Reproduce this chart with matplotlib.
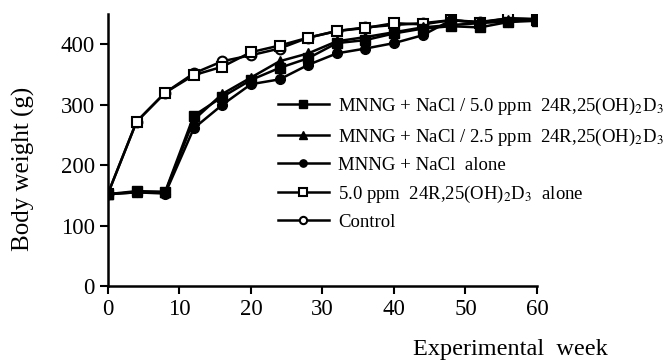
import matplotlib
matplotlib.use('Agg')
import matplotlib.pyplot as plt

plt.rcParams['font.family'] = 'Liberation Serif'
plt.rcParams['mathtext.fontset'] = 'stix'

# experimental weeks
weeks = [0, 4, 8, 12, 16, 20, 24, 28, 32, 36, 40, 44, 48, 52, 56, 60]

# body weight (g) per group
mnng_5ppm = [152, 157, 156, 282, 313, 341, 361, 377, 402, 407, 418, 426, 430, 428, 437, 439]
mnng_25ppm = [152, 155, 155, 275, 318, 345, 372, 385, 405, 412, 420, 428, 432, 435, 440, 440]
mnng_alone = [152, 155, 153, 261, 300, 334, 342, 366, 385, 393, 402, 415, 440, 436, 437, 442]
vitd_alone = [153, 272, 320, 349, 363, 387, 398, 411, 422, 427, 435, 433, 440, 436, 443, 441]
control = [153, 272, 320, 352, 372, 382, 393, 411, 422, 428, 432, 435, 440, 437, 443, 442]

labels = ['MNNG + NaCl / 5.0 ppm  24R,25(OH)$_{2}$D$_{3}$',
          'MNNG + NaCl / 2.5 ppm  24R,25(OH)$_{2}$D$_{3}$',
          'MNNG + NaCl  alone',
          '5.0 ppm  24R,25(OH)$_{2}$D$_{3}$  alone',
          'Control']

fig = plt.figure(figsize=(6.65, 3.62), dpi=100)
ax = fig.add_axes([0.1624, 0.21, 0.6451, 0.751])

ax.plot(weeks, control, color='black', lw=1.8, marker='o', ms=7, mfc='white', mew=1.5, label=labels[4])
ax.plot(weeks, vitd_alone, color='black', lw=1.8, marker='s', ms=7, mfc='white', mew=1.5, label=labels[3])
ax.plot(weeks, mnng_alone, color='black', lw=1.8, marker='o', ms=7, label=labels[2])
ax.plot(weeks, mnng_25ppm, color='black', lw=1.8, marker='^', ms=7.5, label=labels[1])
ax.plot(weeks, mnng_5ppm, color='black', lw=1.8, marker='s', ms=7, label=labels[0])

handles, labs = ax.get_legend_handles_labels()
leg = fig.legend(handles[::-1], labs[::-1], loc='upper left', bbox_to_anchor=(0.418, 0.735),
                 frameon=False, fontsize=13.5, handlelength=2.7, handletextpad=0.5,
                 labelspacing=0.5, borderaxespad=0, borderpad=0, markerscale=0.75)

ax.set_xlim(0, 60)
ax.set_ylim(0, 450)
ax.set_xticks([0, 10, 20, 30, 40, 50, 60])
ax.set_yticks([0, 100, 200, 300, 400])
ax.spines['top'].set_visible(False)
ax.spines['right'].set_visible(False)
ax.spines['left'].set_linewidth(1.8)
ax.spines['bottom'].set_linewidth(1.8)
ax.tick_params(direction='out', length=6, width=1.5, labelsize=16.5)

fig.text(0.035, 0.533, 'Body weight (g)', rotation=90, fontsize=18, ha='center', va='center')
fig.text(0.767, 0.035, 'Experimental  week', fontsize=17.5, ha='center', va='center')

fig.savefig('out.png', dpi=100)
